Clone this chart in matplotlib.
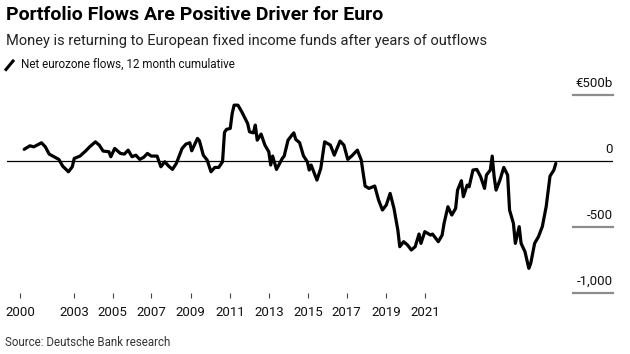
import numpy as np
import matplotlib.pyplot as plt
from matplotlib.lines import Line2D

plt.rcParams['font.family'] = ['Roboto', 'DejaVu Sans']

# months from the start of the series, net flows in EUR bn (12m cumulative)
months = [0, 3, 5, 9, 11, 13, 18, 20, 23, 25, 26, 29, 32, 34, 37, 39, 41, 44, 45, 47,
          50, 52, 54, 56, 58, 60, 62, 64, 66, 69, 71, 73, 75, 77, 79, 82, 84, 86, 87, 90,
          91, 93, 95, 97, 99, 101, 103, 104, 105, 107, 108, 109, 111, 113, 116, 117, 119, 120, 121, 123,
          125, 127, 128, 129, 131, 134, 135, 137, 139, 140, 141, 143, 145, 147, 148, 149, 152, 154, 156, 159,
          161, 164, 166, 168, 170, 173, 175, 177, 179, 182, 184, 186, 188, 190, 192, 194, 195, 197, 199, 201,
          203, 205, 206, 208, 211, 212, 215, 217, 218, 220, 222, 224, 225, 227, 228, 230, 231, 233, 235, 237,
          239, 240, 242, 243, 244, 245, 247, 249, 251, 252, 254, 255, 257, 258, 260, 262, 263, 265, 267, 269,
          271, 273, 275, 276]
flows = [89, 116, 108, 139, 108, 53, 13, -38, -81, -43, 20, 38, 78, 108, 146, 121, 76, 71, 33, 96,
         58, 53, 83, 33, 45, 13, 28, 58, 38, 38, -43, -5, -38, -63, -18, 96, 129, 139, 78, 172,
         154, 45, 8, -81, -48, -48, -5, 217, 240, 248, 361, 424, 424, 373, 286, 222, 214, 273, 159, 205,
         121, 71, -30, 38, -63, 20, 38, 159, 197, 214, 164, 140, 40, -5, -68, -30, -144, -55, 146, 121,
         45, 152, 121, 13, 38, 83, 8, -189, -207, -189, -295, -371, -333, -245, -359, -523, -649, -611, -636, -674,
         -649, -553, -624, -535, -561, -553, -611, -561, -472, -346, -409, -359, -220, -149, -270, -182, -195, -68, -63, -119,
         -207, -106, -68, 38, -119, -220, -144, -48, -106, -371, -472, -624, -497, -624, -687, -813, -775, -624, -573, -497,
         -346, -114, -68, -18]

tick_months = [-2, 26, 46, 66, 86.5, 107, 127, 147.5, 167.5, 188, 208]
tick_labels = ['2000', '2003', '2005', '2007', '2009', '2011', '2013', '2015', '2017', '2019', '2021']
y_levels = [500, 0, -500, -1000]
y_labels = ['€500b', '0', '-500', '-1,000']

W, H = 630, 354
fig = plt.figure(figsize=(W / 100, H / 100), dpi=100)
ax = fig.add_axes([7 / W, 1 - 298 / H, 606 / W, 208 / H])
ax.set_xlim(-8.9, 305.7)
ax.set_ylim(-1038, 539)

ax.axhline(0, color='black', lw=0.9)
ax.plot(months, flows, color='black', lw=2.3, solid_joinstyle='round', solid_capstyle='round')

for s in ax.spines.values():
    s.set_visible(False)
ax.set_yticks([])
ax.set_xticks(tick_months, tick_labels)
ax.tick_params(axis='x', direction='in', length=3.6, width=0.8, color='#444444',
               pad=6, labelsize=9.5, labelcolor='#111111')

# right side value labels with grey rules under them
ytrans = ax.get_yaxis_transform()
for v, lab in zip(y_levels, y_labels):
    ax.annotate(lab, xy=(1, v), xycoords=ytrans, xytext=(0, 6), textcoords='offset points',
                ha='right', va='baseline', fontsize=9.5, color='#111111')
    if v != 0:
        ax.plot([0.934, 1], [v, v], transform=ytrans, color='#8c8c8c', lw=1.6, clip_on=False)

fig.text(6 / W, 1 - 19.5 / H, 'Portfolio Flows Are Positive Driver for Euro',
         fontsize=14, fontweight='bold', va='baseline', color='black')
fig.text(6 / W, 1 - 44.5 / H, 'Money is returning to European fixed income funds after years of outflows',
         fontsize=10.5, va='baseline', color='#222222')
fig.lines.append(Line2D([6 / W, 13 / W], [1 - 69.5 / H, 1 - 61 / H], transform=fig.transFigure,
                        color='black', lw=2.2))
fig.text(21 / W, 1 - 68 / H, 'Net eurozone flows, 12 month cumulative',
         fontsize=8.4, va='baseline', color='#111111')
fig.text(5 / W, 1 - 346 / H, 'Source: Deutsche Bank research',
         fontsize=8.3, va='baseline', color='#333333')

fig.savefig('out.png', dpi=100)
